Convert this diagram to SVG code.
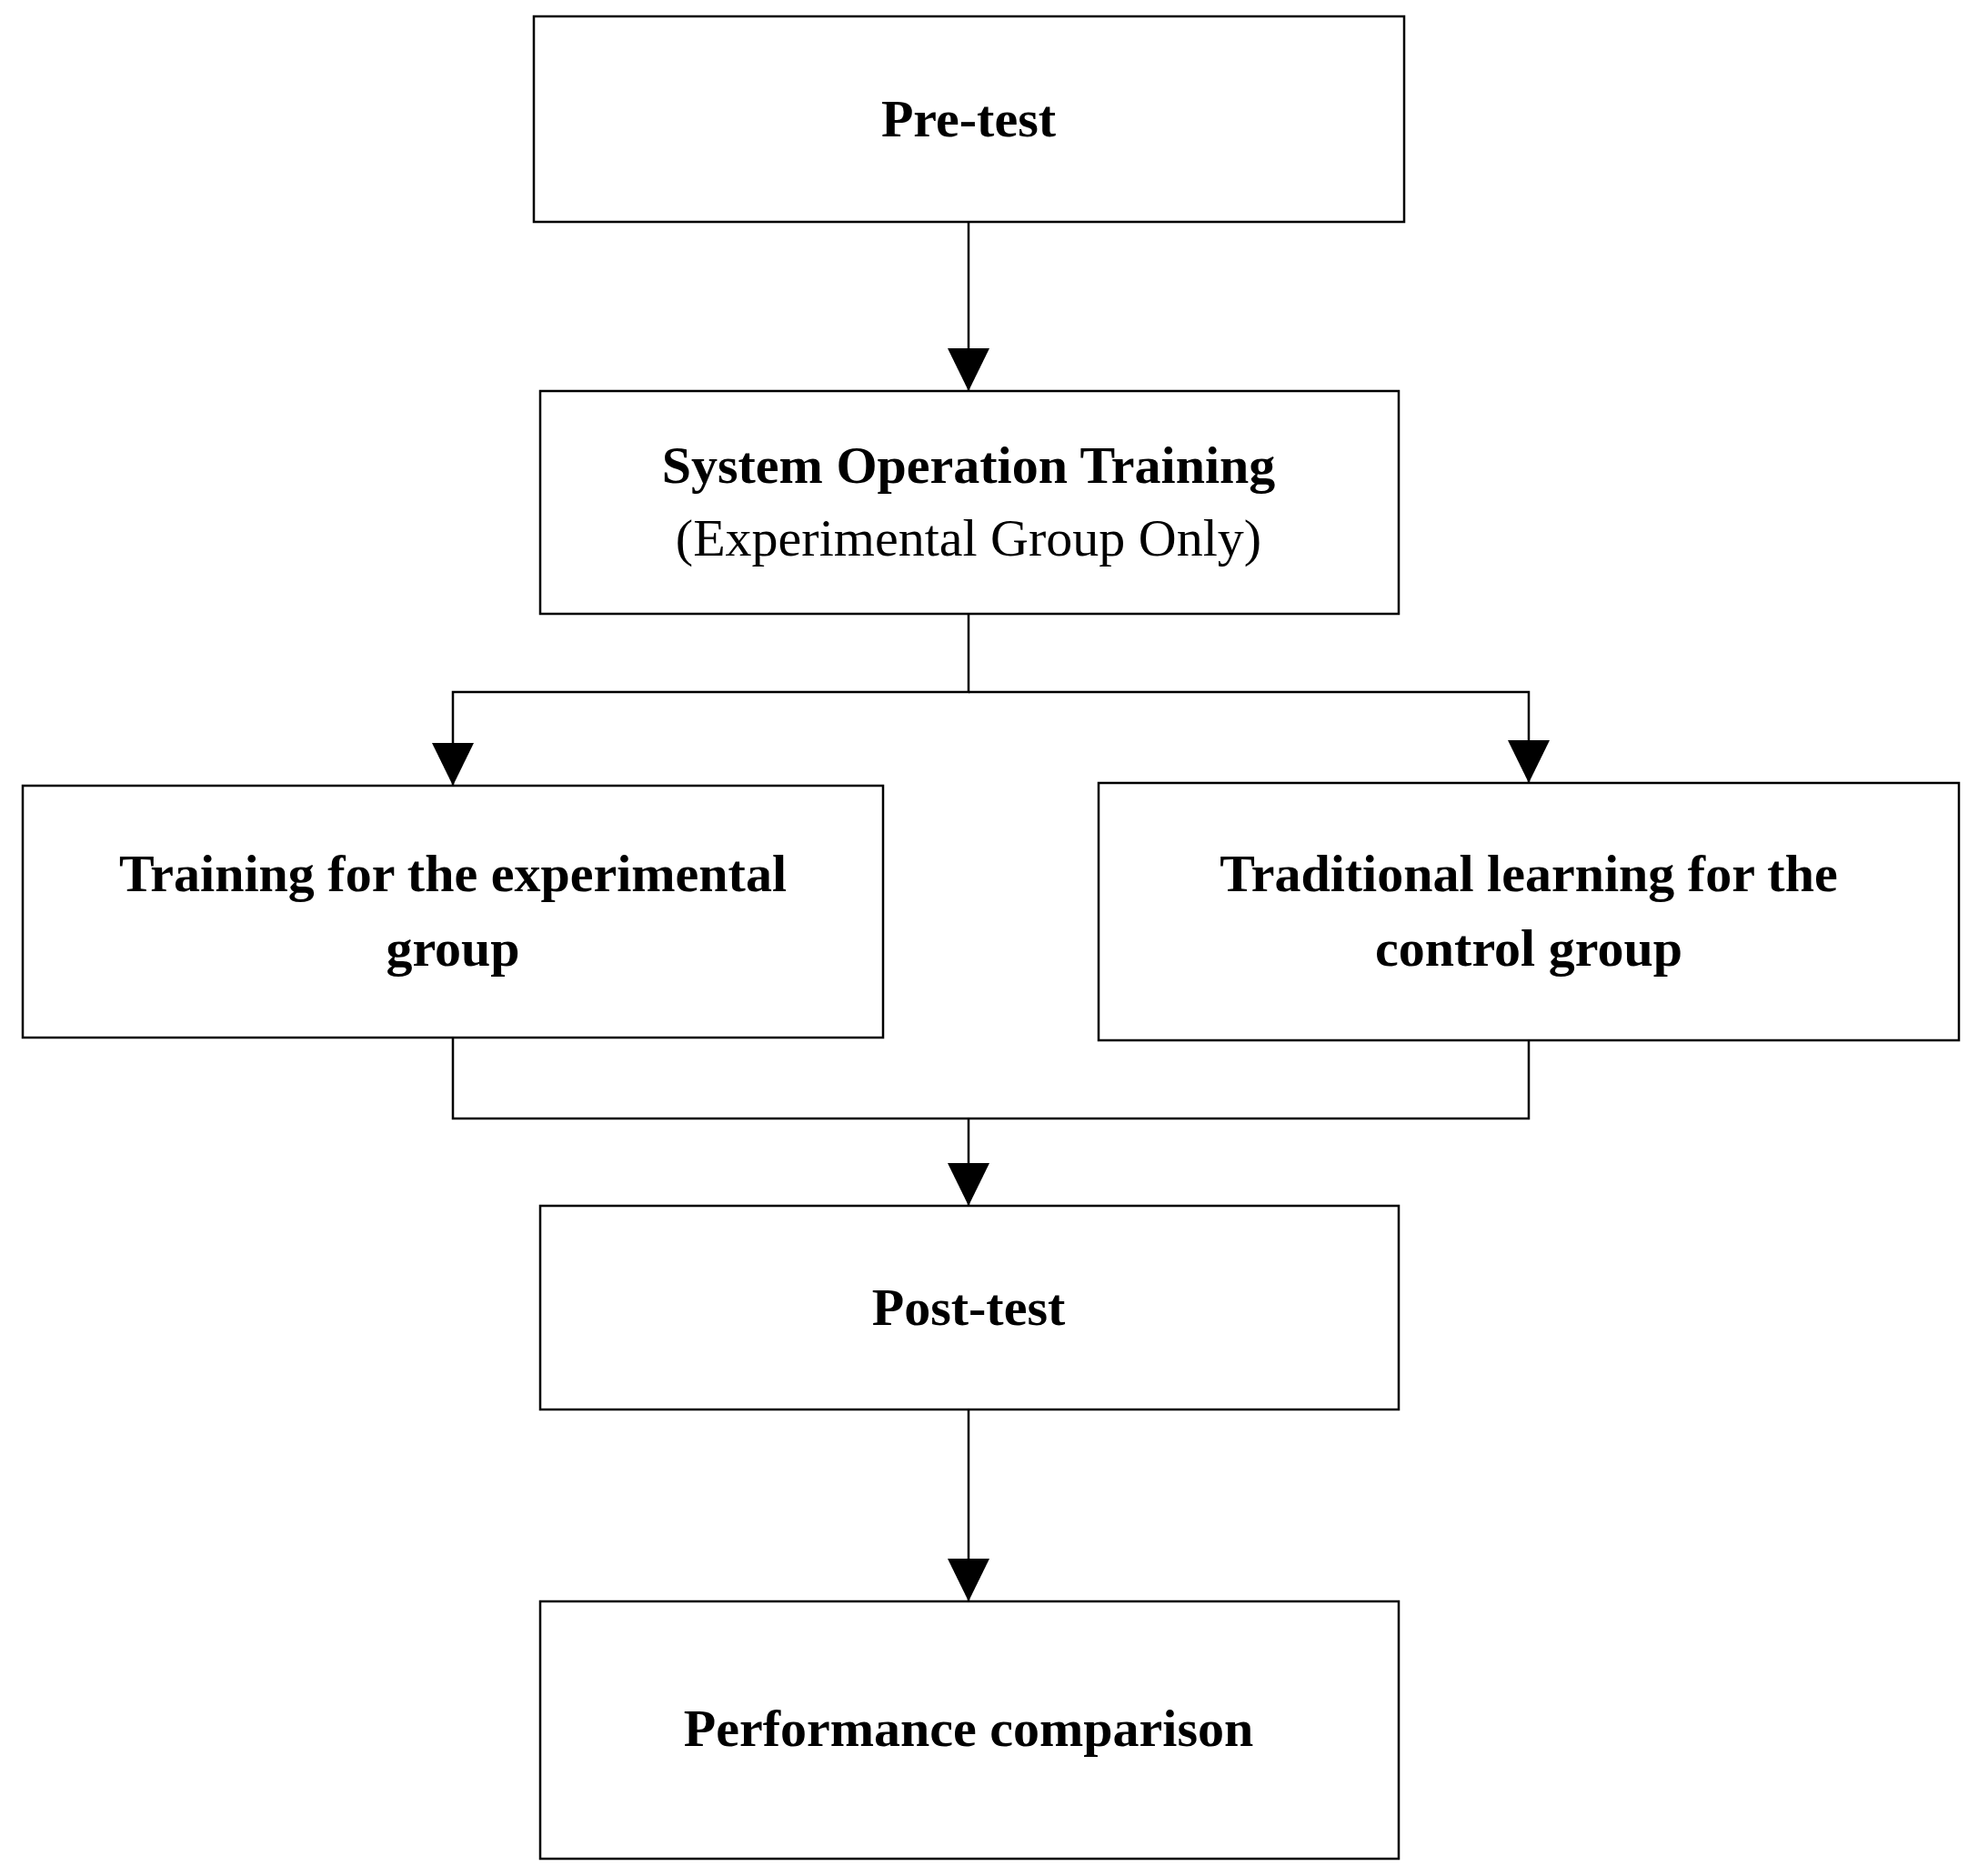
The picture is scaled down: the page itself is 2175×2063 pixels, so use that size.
<svg xmlns="http://www.w3.org/2000/svg" width="2175" height="2063" viewBox="0 0 2175 2063">
<style>
.b{fill:#fff;stroke:#000;stroke-width:2.5}
.t{font-family:"Liberation Serif",serif;font-size:58px;font-weight:bold;text-anchor:middle}
.n{font-weight:normal}
.c{fill:none;stroke:#000;stroke-width:2.5}
</style>
<defs><marker id="a" markerWidth="47" markerHeight="46" refX="47" refY="23" orient="auto" markerUnits="userSpaceOnUse"><path d="M0,0L47,23L0,46Z"/></marker></defs>
<rect width="2175" height="2063" fill="#fff"/>
<g id="connectors">
<path class="c" d="M1065,244V430" marker-end="url(#a)"/>
<path class="c" d="M1065,675V761H498V864" marker-end="url(#a)"/>
<path class="c" d="M1065,761H1681V861" marker-end="url(#a)"/>
<path class="c" d="M498,1141V1230H1681V1144"/>
<path class="c" d="M1065,1230V1326" marker-end="url(#a)"/>
<path class="c" d="M1065,1550V1761" marker-end="url(#a)"/>
</g>
<g id="pretest"><rect class="b" x="587" y="18" width="957" height="226"/><text class="t" x="1065" y="150">Pre-test</text></g>
<g id="system"><rect class="b" x="594" y="430" width="944" height="245"/><text class="t" x="1065" y="531">System Operation Training</text><text class="t n" x="1065" y="611">(Experimental Group Only)</text></g>
<g id="exp"><rect class="b" x="25" y="864" width="946" height="277"/><text class="t" x="498" y="980">Training for the experimental</text><text class="t" x="498" y="1062">group</text></g>
<g id="ctrl"><rect class="b" x="1208" y="861" width="946" height="283"/><text class="t" x="1681" y="980">Traditional learning for the</text><text class="t" x="1681" y="1062">control group</text></g>
<g id="posttest"><rect class="b" x="594" y="1326" width="944" height="224"/><text class="t" x="1065" y="1457">Post-test</text></g>
<g id="perf"><rect class="b" x="594" y="1761" width="944" height="283"/><text class="t" x="1065" y="1920">Performance comparison</text></g>
</svg>
